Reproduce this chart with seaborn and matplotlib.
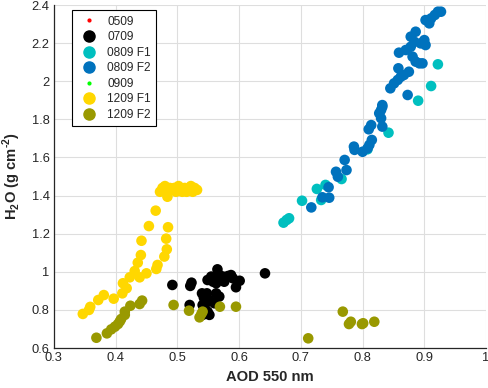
import numpy as np
import pandas as pd
import matplotlib
matplotlib.use("Agg")
import matplotlib.pyplot as plt
import seaborn as sns
from matplotlib.lines import Line2D

# ---------------- data ----------------
x_0509 = []
y_0509 = []

x_0709 = [0.492, 0.521, 0.523, 0.520, 0.540, 0.543, 0.548, 0.546, 0.552, 0.549, 0.552,
          0.541, 0.560, 0.568, 0.563, 0.549, 0.555, 0.558, 0.565, 0.568, 0.574, 0.576,
          0.582, 0.587, 0.590, 0.601, 0.595, 0.563, 0.642, 0.541, 0.545]
y_0709 = [0.931, 0.926, 0.943, 0.826, 0.887, 0.864, 0.887, 0.835, 0.852, 0.791, 0.774,
          0.826, 0.835, 0.870, 0.887, 0.957, 0.975, 0.948, 1.013, 0.983, 0.975, 0.948,
          0.978, 0.983, 0.966, 0.953, 0.919, 0.940, 0.992, 0.774, 0.800]

x_0809_f1 = [0.672, 0.677, 0.681, 0.702, 0.726, 0.733, 0.740, 0.766, 0.808, 0.842, 0.890, 0.911, 0.922]
y_0809_f1 = [1.258, 1.272, 1.281, 1.373, 1.435, 1.377, 1.456, 1.487, 1.643, 1.730, 1.898, 1.975, 2.089]

x_0809_f2 = [0.717, 0.735, 0.746, 0.745, 0.757, 0.760, 0.774, 0.771, 0.786, 0.787,
             0.800, 0.808, 0.811, 0.815, 0.810, 0.814, 0.827, 0.830, 0.830, 0.832,
             0.832, 0.832, 0.845, 0.851, 0.857, 0.862, 0.867, 0.875, 0.858, 0.873,
             0.859, 0.870, 0.878, 0.884, 0.878, 0.886, 0.881, 0.886, 0.892, 0.897,
             0.900, 0.902, 0.902, 0.908, 0.911, 0.917, 0.922, 0.927, 0.894]
y_0809_f2 = [1.338, 1.391, 1.389, 1.444, 1.525, 1.499, 1.534, 1.587, 1.657, 1.640,
             1.630, 1.648, 1.666, 1.692, 1.748, 1.770, 1.832, 1.806, 1.849, 1.875,
             1.762, 1.866, 1.963, 1.989, 2.007, 2.024, 2.033, 2.050, 2.068, 1.928,
             2.150, 2.164, 2.181, 2.207, 2.234, 2.260, 2.129, 2.103, 2.094, 2.094,
             2.216, 2.190, 2.321, 2.304, 2.330, 2.348, 2.365, 2.365, 2.199]

x_0909 = []
y_0909 = []

x_1209_f1 = [0.347, 0.357, 0.359, 0.372, 0.381, 0.397, 0.411, 0.412, 0.418, 0.423,
             0.431, 0.439, 0.436, 0.441, 0.442, 0.450, 0.454, 0.465, 0.466, 0.468,
             0.479, 0.483, 0.482, 0.485, 0.484,
             0.472, 0.476, 0.478, 0.480, 0.482, 0.488, 0.492, 0.495, 0.498, 0.502,
             0.505, 0.508, 0.512, 0.515, 0.518, 0.522, 0.525, 0.528, 0.532]
y_1209_f1 = [0.779, 0.800, 0.816, 0.852, 0.878, 0.859, 0.887, 0.940, 0.914, 0.971,
             1.004, 0.971, 1.048, 1.088, 1.163, 0.992, 1.240, 1.321, 1.015, 1.036,
             1.080, 1.118, 1.174, 1.234, 1.394,
             1.420, 1.440, 1.430, 1.450, 1.430, 1.440, 1.430, 1.440, 1.420, 1.450,
             1.430, 1.420, 1.440, 1.420, 1.430, 1.450, 1.420, 1.440, 1.430]

x_1209_f2 = [0.369, 0.386, 0.393, 0.399, 0.404, 0.407, 0.409, 0.415, 0.415, 0.424,
             0.439, 0.443, 0.494, 0.519, 0.536, 0.539, 0.541, 0.569, 0.595, 0.712,
             0.768, 0.778, 0.781, 0.799, 0.801, 0.819]
y_1209_f2 = [0.654, 0.677, 0.698, 0.712, 0.726, 0.740, 0.752, 0.791, 0.774, 0.822,
             0.831, 0.849, 0.826, 0.796, 0.761, 0.779, 0.791, 0.817, 0.817, 0.651,
             0.791, 0.726, 0.738, 0.726, 0.730, 0.738]

x_ticks = [0.3, 0.4, 0.5, 0.6, 0.7, 0.8, 0.9, 1.0]
x_tick_labels = ["0.3", "0.4", "0.5", "0.6", "0.7", "0.8", "0.9", "1"]
y_ticks = [0.6, 0.8, 1.0, 1.2, 1.4, 1.6, 1.8, 2.0, 2.2, 2.4]
y_tick_labels = ["0.6", "0.8", "1", "1.2", "1.4", "1.6", "1.8", "2", "2.2", "2.4"]

# ---------------- style ----------------
sns.set_style("white")
plt.rcParams['font.family'] = ['Liberation Sans', 'DejaVu Sans']
plt.rcParams['mathtext.fontset'] = 'custom'
plt.rcParams['mathtext.rm'] = 'Liberation Sans'
plt.rcParams['mathtext.bf'] = 'Liberation Sans:bold'

fig = plt.figure(figsize=(4.89, 3.88), dpi=100)
ax = fig.add_axes([0.110, 0.103, 0.884, 0.884])

series = [
    ("0509", x_0509, y_0509, "#FF0000", True),
    ("0709", x_0709, y_0709, "#000000", False),
    ("0809 F1", x_0809_f1, y_0809_f1, "#00BFBF", False),
    ("0809 F2", x_0809_f2, y_0809_f2, "#0072BD", False),
    ("0909", x_0909, y_0909, "#00FF00", True),
    ("1209 F1", x_1209_f1, y_1209_f1, "#FFD700", False),
    ("1209 F2", x_1209_f2, y_1209_f2, "#999900", False),
]

handles = []
for name, xs, ys, col, small in series:
    if len(xs) > 0:
        df = pd.DataFrame({"x": xs, "y": ys})
        sns.scatterplot(data=df, x="x", y="y", ax=ax, color=col, s=58,
                        edgecolor="none", linewidth=0, legend=False, zorder=3)
    ms = 2 if small else 8
    handles.append(Line2D([], [], linestyle="none", marker="o", markersize=ms,
                          markerfacecolor=col, markeredgecolor=col, label=name))

ax.set_xlim(0.3, 1.0)
ax.set_ylim(0.6, 2.4)
ax.set_xticks(x_ticks)
ax.set_xticklabels(x_tick_labels)
ax.set_yticks(y_ticks)
ax.set_yticklabels(y_tick_labels)
ax.tick_params(axis="both", direction="in", length=4, width=0.8, labelsize=9.3,
               colors="#262626", pad=3)
ax.grid(True, color="#DEDEDE", linewidth=0.8, zorder=0)
ax.set_axisbelow(True)
for side in ["top", "right"]:
    ax.spines[side].set_visible(False)
for side in ["left", "bottom"]:
    ax.spines[side].set_color("#262626")
    ax.spines[side].set_linewidth(0.9)

ax.set_xlabel("AOD 550 nm", fontsize=10.6, fontweight="bold", color="#262626", labelpad=4)
ax.set_ylabel("H$_\\mathbf{2}$O (g cm$^\\mathbf{\u2010 2}$)", fontsize=10.6, fontweight="bold",
              color="#262626", labelpad=6)

leg = ax.legend(handles=handles, loc="upper left", bbox_to_anchor=(0.042, 0.985),
                borderaxespad=0, fontsize=8.6, frameon=True, fancybox=False,
                edgecolor="black", framealpha=1, handlelength=2.0, handletextpad=0.5,
                labelspacing=0.3, borderpad=0.45)
leg.get_frame().set_linewidth(0.8)

fig.savefig("out.png", dpi=100)
